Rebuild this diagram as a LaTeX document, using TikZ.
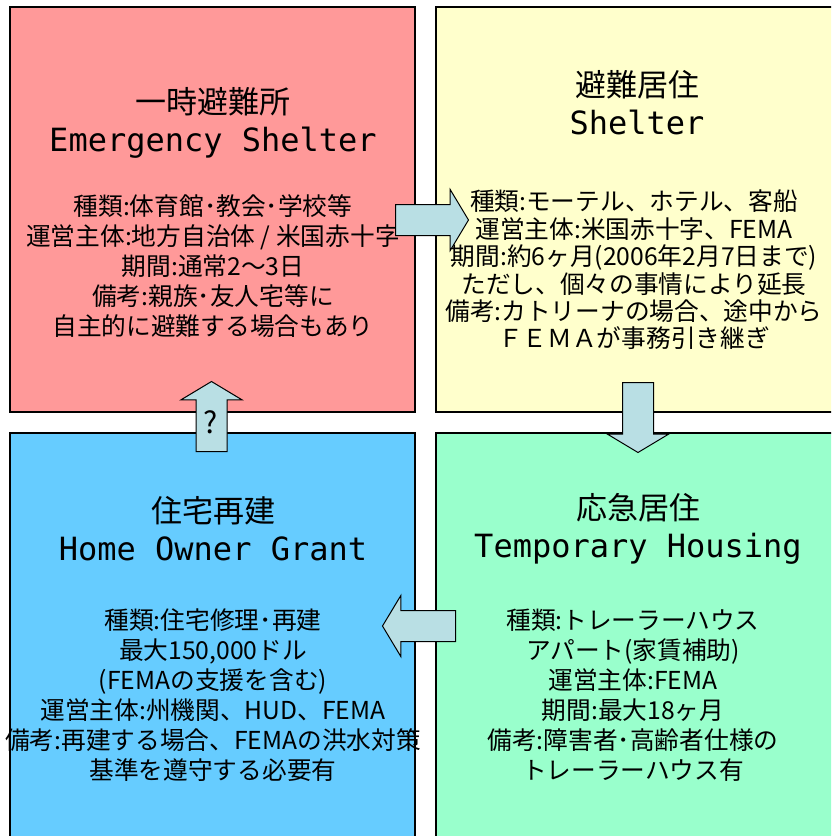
\documentclass[tikz,border=0pt]{standalone}
\usepackage{fontspec}
\setmainfont{Noto Sans CJK JP}
\newfontfamily\latinmono{DejaVu Sans Mono}
\usepackage{tikz}
\usetikzlibrary{shapes.arrows}
\definecolor{stagered}{HTML}{FF9999}
\definecolor{stageyellow}{HTML}{FFFFCC}
\definecolor{stageblue}{HTML}{66CCFF}
\definecolor{stagegreen}{HTML}{99FFCC}
\definecolor{flowblue}{HTML}{B9DFE4}
\tikzstyle{stagebox}=[draw,line width=1.4pt,minimum width=405pt,minimum height=405pt,inner sep=0pt]
\tikzstyle{heading}=[align=center,font=\fontsize{31}{38}\selectfont]
\tikzstyle{details}=[align=center,font=\fontsize{24.7}{30}\selectfont]
\tikzstyle{flow}=[draw,fill=flowblue,line width=1pt,single arrow,single arrow head extend=15pt,single arrow tip angle=118,inner xsep=0pt,inner ysep=15pt,minimum height=73pt,anchor=tail]
\tikzstyle{upright}=[inner xsep=15pt,inner ysep=0pt,minimum height=70pt]

\begin{document}
\begin{tikzpicture}[x=1pt,y=-1pt]
\clip (0,0) rectangle (831,836);
\node [stagebox,fill=stagered] (emergency) at (212.5,209.5) {};
\node [stagebox,fill=stageyellow] (shelter) at (638.5,209.5) {};
\node [stagebox,fill=stageblue] (homeowner) at (212.5,635.5) {};
\node [stagebox,fill=stagegreen] (temporary) at (638.5,635.5) {};

\node [heading] (emergency-title) at (213,123) {一時避難所\\{\latinmono\fontsize{32}{38}\selectfont Emergency Shelter}};
\node [details] (emergency-text) at (213,266) {種類:体育館･教会･学校等\\運営主体:地方自治体 / 米国赤十字\\期間:通常2～3日\\備考:親族･友人宅等に\\自主的に避難する場合もあり};

\node [heading] (shelter-title) at (637,103) {避難居住\\{\latinmono\fontsize{32}{38}\selectfont Shelter}};
\node [details,font=\fontsize{24.7}{27.4}\selectfont] (shelter-text) at (634,270) {種類:モーテル、ホテル、客船\\運営主体:米国赤十字、FEMA\\期間:約6ヶ月(2006年2月7日まで)\\ただし、個々の事情により延長\\備考:カトリーナの場合、途中から\\ＦＥＭＡが事務引き継ぎ};

\node [heading] (homeowner-title) at (213,529) {住宅再建\\{\latinmono\fontsize{32}{38}\selectfont Home Owner Grant}};
\node [details] (homeowner-text) at (213,695) {種類:住宅修理･再建\\最大150,000ドル\\(FEMAの支援を含む)\\運営主体:州機関、HUD、FEMA\\備考:再建する場合、FEMAの洪水対策\\基準を遵守する必要有};

\node [heading] (temporary-title) at (638,529) {応急居住\\{\latinmono\fontsize{32}{38}\selectfont Temporary Housing}};
\node [details] (temporary-text) at (633,695) {種類:トレーラーハウス\\アパート(家賃補助)\\運営主体:FEMA\\期間:最大18ヶ月\\備考:障害者･高齢者仕様の\\トレーラーハウス有};

\node [flow] (to-shelter) at (395,220) {};
\node [flow,upright,shape border rotate=270] (to-temporary) at (638,382) {};
\node [flow,shape border rotate=180] (to-homeowner) at (456,626) {};
\node [flow,upright,shape border rotate=90] (to-emergency) at (211.5,452) {};
\node [font=\fontsize{30}{30}\selectfont,inner sep=0pt] (unknown-step) at (211,422) {?};
\end{tikzpicture}
\end{document}
